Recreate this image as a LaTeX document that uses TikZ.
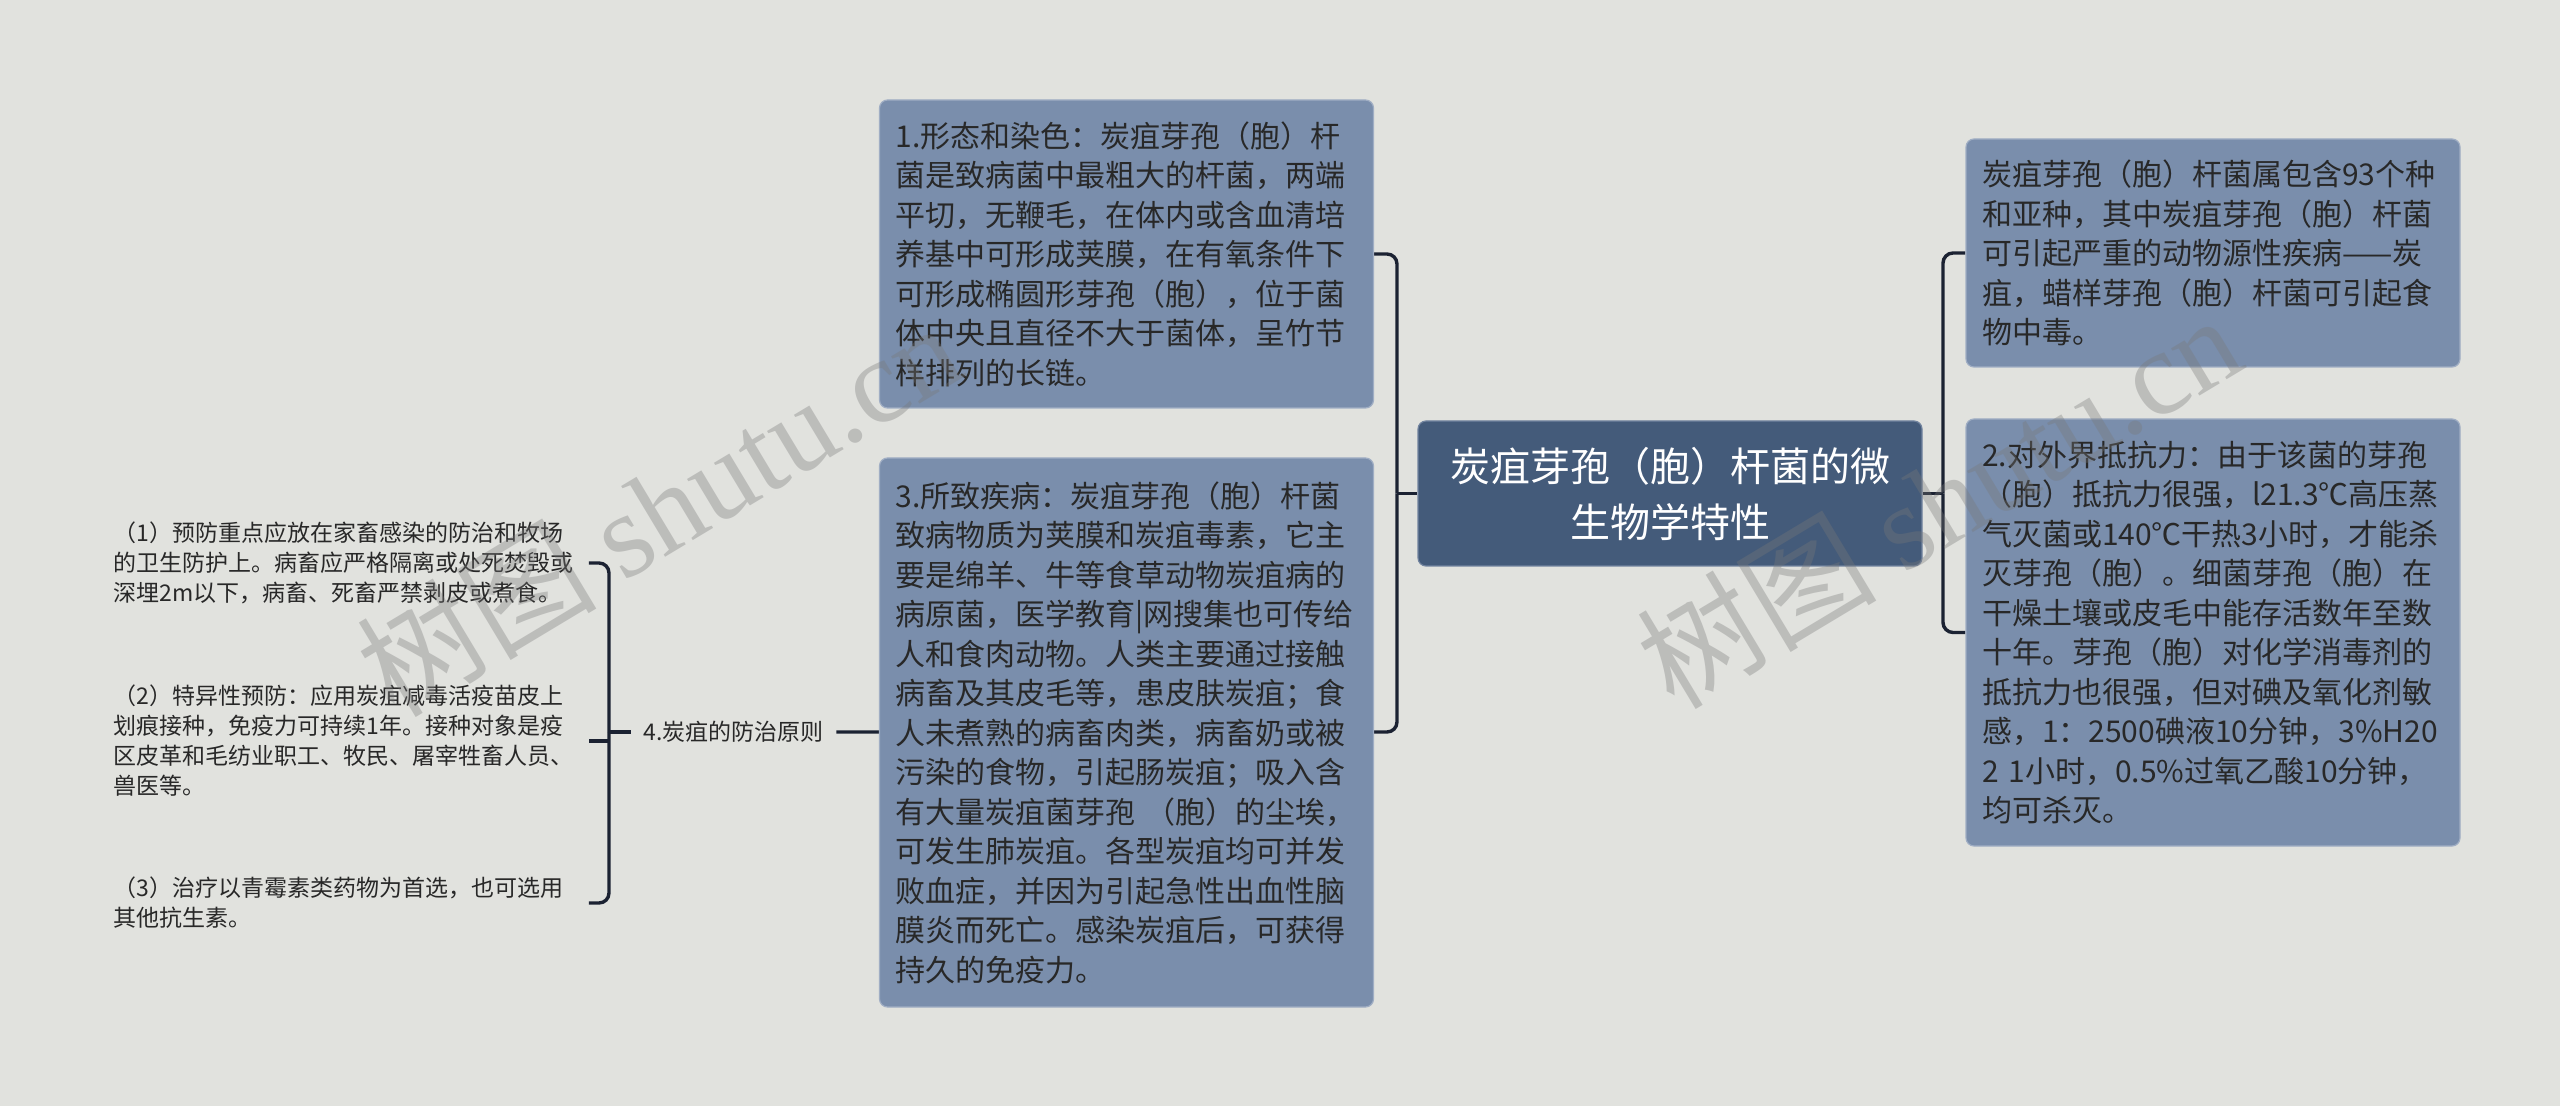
\documentclass[tikz,border=0pt]{standalone}
\usepackage{fontspec}
\setmainfont{Noto Sans CJK SC}
\newfontfamily\wmlatin{Liberation Serif}
\usetikzlibrary{calc}
\definecolor{bgc}{RGB}{225,226,222}
\definecolor{boxc}{RGB}{122,142,172}
\definecolor{boxline}{RGB}{160,174,196}
\definecolor{rootc}{RGB}{68,91,122}
\definecolor{txtc}{RGB}{40,40,40}
\definecolor{linec}{RGB}{27,34,50}
\definecolor{wmc}{RGB}{120,120,120}
\pgfdeclarelayer{bglayer}
\pgfdeclarelayer{linelayer}
\pgfdeclarelayer{wmlayer}
\pgfsetlayers{bglayer,linelayer,main,wmlayer}
\begin{document}
\begin{tikzpicture}[x=0.5pt,y=-0.5pt,
  infobox/.style={fill=boxc,draw=boxline,line width=0.6pt,rounded corners=4pt,text=txtc,align=left,
    text width=231pt,inner xsep=8pt,inner ysep=0pt,minimum width=247pt,
    font=\fontsize{15pt}{19.75pt}\selectfont},
  rootbox/.style={fill=rootc,draw=boxline!50!rootc,line width=0.6pt,rounded corners=4pt,text=white,
    align=center,minimum width=252pt,minimum height=72.5pt,inner sep=0pt,
    font=\fontsize{20pt}{28pt}\selectfont},
  leaf/.style={text=txtc,align=left,text width=237.5pt,inner sep=0pt,anchor=west,
    font=\fontsize{11.5pt}{15pt}\selectfont},
  labelfour/.style={text=txtc,inner xsep=6.25pt,inner ysep=2pt,font=\fontsize{11.5pt}{15pt}\selectfont},
  conn/.style={draw=linec,line width=1.7pt,rounded corners=5pt},
  wmark/.style={text=wmc,opacity=0.35,rotate=31,inner sep=0pt,font=\fontsize{60pt}{60pt}\selectfont}
]
\begin{pgfonlayer}{bglayer}
  \fill[bgc] (0,0) rectangle (2560,1106);
\end{pgfonlayer}
\useasboundingbox (0,0) rectangle (2560,1106);

% root
\node[rootbox] (root) at (1670,493.5) {炭疽芽孢（胞）杆菌的微\\生物学特性};

% left-side boxes
\node[infobox,minimum height=154pt] (b1) at (1126.5,254) {1.形态和染色：炭疽芽孢（胞）杆\\
菌是致病菌中最粗大的杆菌，两端\\
平切，无鞭毛，在体内或含血清培\\
养基中可形成荚膜，在有氧条件下\\
可形成椭圆形芽孢（胞），位于菌\\
体中央且直径不大于菌体，呈竹节\\
样排列的长链。};

\node[infobox,minimum height=274.5pt] (b3) at (1126.5,732.5) {3.所致疾病：炭疽芽孢（胞）杆菌\\
致病物质为荚膜和炭疽毒素，它主\\
要是绵羊、牛等食草动物炭疽病的\\
病原菌，医学教育|网搜集也可传给\\
人和食肉动物。人类主要通过接触\\
病畜及其皮毛等，患皮肤炭疽；食\\
人未煮熟的病畜肉类，病畜奶或被\\
污染的食物，引起肠炭疽；吸入含\\
有大量炭疽菌芽孢 （胞）的尘埃，\\
可发生肺炭疽。各型炭疽均可并发\\
败血症，并因为引起急性出血性脑\\
膜炎而死亡。感染炭疽后，可获得\\
持久的免疫力。};

% right-side boxes
\node[infobox,minimum height=114pt] (ba) at (2213,253) {炭疽芽孢（胞）杆菌属包含93个种\\
和亚种，其中炭疽芽孢（胞）杆菌\\
可引起严重的动物源性疾病——炭\\
疽，蜡样芽孢（胞）杆菌可引起食\\
物中毒。};

\node[infobox,minimum height=213.5pt] (bb) at (2213,632.5) {2.对外界抵抗力：由于该菌的芽孢\\
（胞）抵抗力很强，l21.3℃高压蒸\\
气灭菌或140℃干热3小时，才能杀\\
灭芽孢（胞）。细菌芽孢（胞）在\\
干燥土壤或皮毛中能存活数年至数\\
十年。芽孢（胞）对化学消毒剂的\\
抵抗力也很强，但对碘及氧化剂敏\\
感，1：2500碘液10分钟，3\%H20\\
2 1小时，0.5\%过氧乙酸10分钟，\\
均可杀灭。};

% node 4 and its leaves
\node[labelfour] (n4) at (733.5,732) {4.炭疽的防治原则};

\node[leaf] (l1) at (113,563) {（1）预防重点应放在家畜感染的防治和牧场\\
的卫生防护上。病畜应严格隔离或处死焚毁或\\
深埋2m以下，病畜、死畜严禁剥皮或煮食。};
\node[leaf] (l2) at (113,741) {（2）特异性预防：应用炭疽减毒活疫苗皮上\\
划痕接种，免疫力可持续1年。接种对象是疫\\
区皮革和毛纺业职工、牧民、屠宰牲畜人员、\\
兽医等。};
\node[leaf] (l3) at (113,903) {（3）治疗以青霉素类药物为首选，也可选用\\
其他抗生素。};

% junctions
\coordinate (jc) at (1397,493.5);
\coordinate (jr) at (1943,493.5);
\coordinate (jl) at (609,732);

\begin{pgfonlayer}{linelayer}
  \draw[conn] (root.west) -- (jc);
  \draw[conn] (jc) |- (b1.east);
  \draw[conn] (jc) |- (n4.east);
  \draw[conn] (root.east) -- (jr);
  \draw[conn] (jr) |- (ba.west);
  \draw[conn] (jr) |- (bb.west);
  \draw[conn] (n4.west) -- (jl);
  \draw[conn] (jl) |- (l1.east);
  \draw[conn] (jl) |- (l3.east);
  \draw[conn] (jl |- l2.east) -- (l2.east);
\end{pgfonlayer}

\begin{pgfonlayer}{wmlayer}
  \node[wmark] (wm1) at (658,508) {树图 {\wmlatin shutu.cn}};
  \node[wmark] (wm2) at (1938,500) {树图 {\wmlatin shutu.cn}};
\end{pgfonlayer}
\end{tikzpicture}
\end{document}
